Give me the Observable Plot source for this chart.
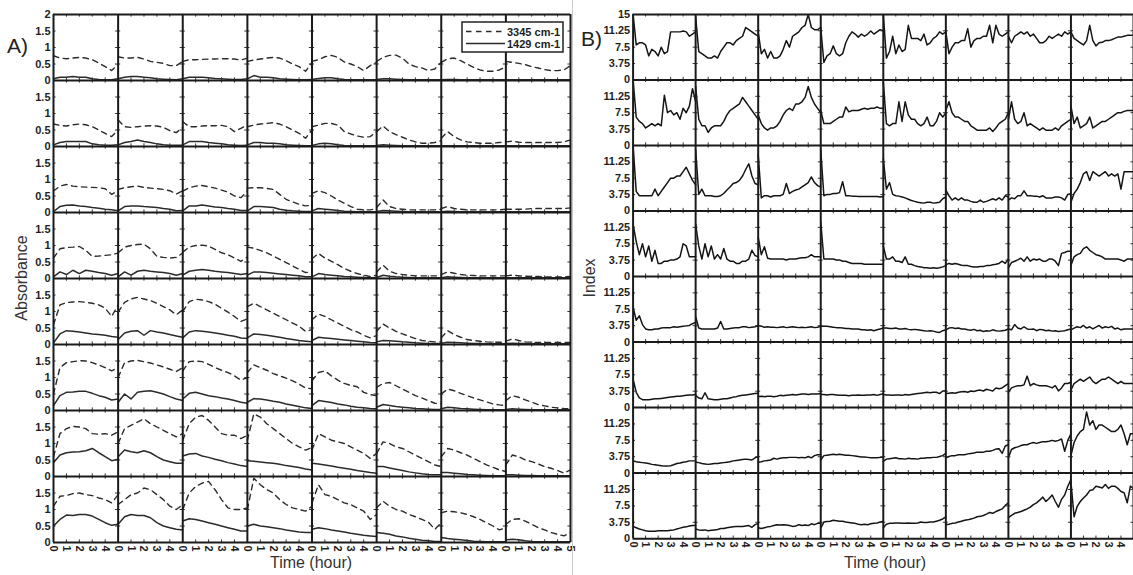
<!DOCTYPE html>
<html><head><meta charset="utf-8">
<script src="https://cdn.jsdelivr.net/npm/d3@7"></script>
<script src="https://cdn.jsdelivr.net/npm/@observablehq/plot@0.6"></script>
<style>
html,body{margin:0;padding:0;background:#fff}
#wrap{position:relative;width:1133px;height:575px;overflow:hidden;background:#fff}
#a,#b,#ann{position:absolute;top:0}
#a{left:0}
#b{left:575px}
#ann{left:0;pointer-events:none}
</style></head>
<body>
<div id="wrap"><div id="a"></div><div id="b"></div>
<svg id="ann" width="1133" height="575" font-family="Liberation Sans, Arial, sans-serif"></svg></div>
<script>
// ---------- data ----------
const timesA = [0,0.5,1,1.5,2,2.5,3,3.5,4,4.5,5];
const timesB = [0,0.25,0.5,0.75,1,1.25,1.5,1.75,2,2.25,2.5,2.75,3,3.25,3.5,3.75,4,4.25,4.5,4.75,5];
const hourTicks = [0,1,2,3,4];
const hourEnd = 5;
const absTicks = [0,0.5,1,1.5];
const absTop = 2;
const idxTicks = [0,3.75,7.5,11.25];
const idxTop = 15;
const seriesNames = ["3345 cm-1","1429 cm-1"];

// Absorbance at 3345 cm-1 (dashed): 8 rows x 8 columns x 11 times
const band3345 = [
 [[0.75,0.68,0.66,0.68,0.7,0.68,0.63,0.53,0.42,0.3,0.5],[0.72,0.68,0.68,0.7,0.65,0.58,0.55,0.52,0.45,0.45,0.58],[0.58,0.63,0.63,0.64,0.65,0.65,0.66,0.66,0.65,0.62,0.68],[0.58,0.62,0.65,0.68,0.7,0.68,0.6,0.5,0.42,0.28,0.55],[0.58,0.63,0.72,0.76,0.7,0.56,0.5,0.42,0.3,0.45,0.55],[0.58,0.7,0.76,0.77,0.68,0.5,0.42,0.38,0.3,0.35,0.55],[0.55,0.66,0.68,0.6,0.5,0.4,0.32,0.28,0.28,0.32,0.42],[0.58,0.55,0.52,0.48,0.42,0.38,0.33,0.3,0.3,0.32,0.45]],
 [[0.68,0.64,0.62,0.66,0.68,0.66,0.6,0.5,0.4,0.3,0.5],[0.8,0.6,0.58,0.6,0.62,0.63,0.62,0.58,0.48,0.42,0.58],[0.75,0.6,0.6,0.62,0.63,0.63,0.64,0.6,0.45,0.55,0.65],[0.6,0.65,0.68,0.7,0.72,0.68,0.6,0.5,0.4,0.25,0.5],[0.6,0.65,0.7,0.7,0.65,0.45,0.38,0.32,0.28,0.3,0.45],[0.45,0.62,0.45,0.36,0.28,0.2,0.14,0.1,0.1,0.12,0.18],[0.25,0.45,0.3,0.2,0.14,0.12,0.1,0.1,0.1,0.12,0.14],[0.14,0.16,0.13,0.12,0.12,0.12,0.12,0.12,0.12,0.14,0.2]],
 [[0.65,0.8,0.85,0.8,0.78,0.77,0.76,0.75,0.72,0.55,0.66],[0.7,0.75,0.78,0.8,0.76,0.74,0.72,0.7,0.66,0.56,0.66],[0.65,0.75,0.8,0.82,0.78,0.74,0.68,0.62,0.5,0.45,0.65],[0.74,0.75,0.75,0.73,0.7,0.55,0.4,0.32,0.25,0.2,0.22],[0.58,0.66,0.6,0.5,0.38,0.28,0.18,0.1,0.08,0.08,0.12],[0.15,0.38,0.18,0.12,0.1,0.08,0.08,0.08,0.08,0.08,0.1],[0.12,0.18,0.12,0.1,0.08,0.08,0.08,0.08,0.08,0.08,0.1],[0.1,0.1,0.1,0.1,0.12,0.12,0.12,0.12,0.12,0.12,0.14]],
 [[0.62,0.9,0.94,0.95,0.97,0.85,0.67,0.68,0.7,0.72,0.77],[0.78,0.95,1.0,1.03,1.04,0.9,0.67,0.64,0.62,0.64,0.77],[0.8,0.95,1.0,1.01,0.98,0.88,0.78,0.72,0.62,0.52,0.65],[0.95,0.92,0.85,0.78,0.68,0.58,0.48,0.38,0.28,0.18,0.2],[0.6,0.76,0.62,0.52,0.42,0.3,0.22,0.15,0.1,0.06,0.1],[0.2,0.4,0.22,0.15,0.12,0.1,0.08,0.08,0.08,0.08,0.08],[0.12,0.2,0.16,0.12,0.1,0.09,0.08,0.08,0.08,0.08,0.08],[0.08,0.1,0.08,0.07,0.06,0.06,0.05,0.05,0.05,0.05,0.06]],
 [[0.6,1.2,1.27,1.29,1.3,1.28,1.25,1.2,1.1,0.85,1.2],[0.98,1.28,1.38,1.43,1.38,1.33,1.25,1.15,1.05,0.9,1.05],[1.0,1.3,1.37,1.35,1.3,1.22,1.1,0.98,0.85,0.7,0.78],[1.15,1.25,1.15,1.05,0.95,0.85,0.75,0.65,0.55,0.4,0.45],[0.75,0.92,0.85,0.75,0.65,0.55,0.45,0.38,0.28,0.2,0.27],[0.4,0.62,0.5,0.4,0.32,0.25,0.18,0.12,0.1,0.08,0.08],[0.2,0.42,0.3,0.22,0.15,0.12,0.1,0.08,0.07,0.07,0.07],[0.1,0.17,0.12,0.08,0.07,0.06,0.06,0.06,0.06,0.06,0.06]],
 [[0.5,1.3,1.45,1.48,1.51,1.5,1.45,1.38,1.3,1.2,1.3],[1.0,1.45,1.5,1.52,1.48,1.44,1.38,1.32,1.25,1.18,1.3],[1.2,1.48,1.5,1.48,1.4,1.3,1.22,1.15,1.05,0.92,1.0],[1.15,1.38,1.3,1.22,1.12,1.05,0.98,0.9,0.8,0.68,0.66],[0.9,1.15,1.2,1.05,0.92,0.82,0.76,0.72,0.55,0.48,0.45],[0.7,0.82,0.85,0.75,0.65,0.55,0.45,0.38,0.3,0.22,0.2],[0.5,0.65,0.6,0.52,0.45,0.38,0.32,0.26,0.2,0.17,0.15],[0.3,0.45,0.4,0.32,0.25,0.18,0.14,0.1,0.08,0.06,0.05]],
 [[0.6,1.3,1.45,1.52,1.5,1.45,1.3,1.28,1.3,1.25,1.35],[1.0,1.45,1.55,1.65,1.75,1.6,1.5,1.4,1.3,1.2,1.3],[1.1,1.6,1.8,1.85,1.7,1.5,1.3,1.25,1.25,1.15,1.25],[1.1,1.9,1.8,1.6,1.45,1.3,1.15,1.0,0.9,0.8,0.88],[0.8,1.3,1.2,1.1,1.05,1.0,0.9,0.8,0.7,0.55,0.7],[0.7,1.05,1.0,0.9,0.85,0.75,0.65,0.55,0.45,0.35,0.3],[0.6,0.85,0.8,0.72,0.65,0.55,0.45,0.35,0.28,0.2,0.15],[0.35,0.65,0.6,0.5,0.45,0.38,0.3,0.25,0.18,0.1,0.2]],
 [[1.1,1.4,1.42,1.48,1.5,1.45,1.42,1.35,1.3,1.2,1.45],[1.15,1.3,1.45,1.5,1.65,1.6,1.45,1.3,1.1,1.0,1.15],[1.0,1.5,1.7,1.8,1.85,1.6,1.3,1.05,1.0,1.0,1.05],[1.0,1.95,1.75,1.6,1.5,1.3,1.15,1.05,1.0,0.95,1.1],[1.2,1.75,1.45,1.4,1.3,1.2,1.15,1.05,0.95,0.7,0.85],[1.05,1.25,1.1,1.0,0.95,0.85,0.78,0.7,0.62,0.4,0.6],[0.9,0.95,0.93,0.9,0.85,0.78,0.7,0.6,0.5,0.38,0.45],[0.55,0.7,0.72,0.65,0.55,0.45,0.38,0.3,0.25,0.2,0.3]]
];

// Absorbance at 1429 cm-1 (solid)
const band1429 = [
 [[0.05,0.1,0.1,0.12,0.1,0.1,0.05,0.03,0.02,0.02,0.05],[0.05,0.1,0.12,0.12,0.1,0.08,0.05,0.04,0.03,0.02,0.05],[0.05,0.1,0.1,0.1,0.08,0.06,0.05,0.04,0.03,0.03,0.05],[0.05,0.15,0.1,0.1,0.08,0.05,0.04,0.03,0.02,0.02,0.03],[0.03,0.06,0.08,0.08,0.05,0.03,0.02,0.02,0.02,0.02,0.02],[0.03,0.05,0.05,0.04,0.03,0.02,0.02,0.02,0.02,0.02,0.02],[0.02,0.03,0.03,0.02,0.02,0.02,0.02,0.02,0.02,0.02,0.02],[0.02,0.02,0.02,0.02,0.02,0.02,0.02,0.02,0.02,0.02,0.02]],
 [[0.05,0.12,0.15,0.15,0.15,0.15,0.08,0.05,0.04,0.04,0.05],[0.05,0.12,0.15,0.2,0.15,0.12,0.08,0.05,0.04,0.04,0.04],[0.05,0.15,0.15,0.15,0.12,0.1,0.08,0.05,0.04,0.03,0.04],[0.05,0.12,0.12,0.1,0.1,0.08,0.05,0.04,0.03,0.02,0.02],[0.03,0.08,0.1,0.08,0.05,0.03,0.02,0.02,0.02,0.02,0.02],[0.03,0.05,0.04,0.03,0.02,0.02,0.02,0.02,0.02,0.02,0.02],[0.02,0.02,0.02,0.02,0.02,0.02,0.02,0.02,0.02,0.02,0.02],[0.02,0.02,0.02,0.02,0.02,0.02,0.02,0.02,0.02,0.02,0.02]],
 [[0.03,0.18,0.22,0.23,0.2,0.18,0.15,0.13,0.1,0.08,0.05],[0.05,0.18,0.2,0.2,0.18,0.17,0.15,0.12,0.1,0.05,0.06],[0.05,0.2,0.2,0.23,0.2,0.17,0.15,0.12,0.1,0.06,0.06],[0.05,0.18,0.18,0.17,0.15,0.1,0.07,0.05,0.04,0.03,0.03],[0.05,0.12,0.1,0.08,0.06,0.04,0.03,0.02,0.02,0.02,0.02],[0.03,0.06,0.05,0.04,0.03,0.02,0.02,0.02,0.02,0.02,0.02],[0.02,0.04,0.03,0.02,0.02,0.02,0.02,0.02,0.02,0.02,0.02],[0.02,0.02,0.02,0.02,0.02,0.02,0.02,0.02,0.02,0.02,0.02]],
 [[0.05,0.2,0.12,0.25,0.15,0.25,0.22,0.18,0.15,0.1,0.15],[0.05,0.2,0.1,0.22,0.25,0.22,0.2,0.18,0.15,0.1,0.15],[0.1,0.22,0.25,0.27,0.25,0.22,0.2,0.18,0.15,0.12,0.15],[0.1,0.2,0.2,0.18,0.16,0.14,0.12,0.1,0.08,0.05,0.05],[0.05,0.15,0.12,0.1,0.08,0.06,0.05,0.04,0.03,0.02,0.03],[0.03,0.1,0.07,0.05,0.04,0.03,0.02,0.02,0.02,0.02,0.02],[0.02,0.05,0.04,0.03,0.02,0.02,0.02,0.02,0.02,0.02,0.02],[0.02,0.02,0.02,0.02,0.02,0.02,0.02,0.02,0.02,0.02,0.02]],
 [[0.05,0.32,0.42,0.4,0.38,0.35,0.32,0.3,0.28,0.24,0.22],[0.15,0.35,0.4,0.42,0.28,0.42,0.38,0.35,0.3,0.26,0.22],[0.2,0.38,0.42,0.4,0.38,0.35,0.32,0.28,0.25,0.2,0.18],[0.2,0.32,0.3,0.28,0.25,0.22,0.18,0.15,0.12,0.1,0.08],[0.12,0.22,0.2,0.18,0.16,0.14,0.12,0.1,0.08,0.06,0.05],[0.08,0.12,0.11,0.1,0.08,0.07,0.05,0.04,0.03,0.03,0.03],[0.04,0.07,0.06,0.05,0.04,0.03,0.03,0.02,0.02,0.02,0.02],[0.03,0.04,0.03,0.03,0.02,0.02,0.02,0.02,0.02,0.02,0.02]],
 [[0.15,0.45,0.55,0.56,0.58,0.58,0.52,0.45,0.4,0.32,0.35],[0.25,0.5,0.35,0.55,0.58,0.6,0.55,0.5,0.42,0.35,0.3],[0.35,0.52,0.55,0.5,0.45,0.42,0.38,0.35,0.3,0.25,0.22],[0.25,0.36,0.35,0.32,0.28,0.25,0.2,0.16,0.12,0.08,0.06],[0.15,0.3,0.27,0.24,0.2,0.17,0.13,0.1,0.08,0.06,0.05],[0.1,0.18,0.15,0.12,0.1,0.08,0.06,0.05,0.04,0.03,0.03],[0.05,0.1,0.08,0.06,0.05,0.04,0.03,0.02,0.02,0.02,0.02],[0.03,0.05,0.04,0.03,0.02,0.02,0.02,0.02,0.02,0.02,0.02]],
 [[0.42,0.65,0.72,0.74,0.75,0.78,0.85,0.72,0.6,0.48,0.52],[0.6,0.8,0.75,0.72,0.78,0.72,0.6,0.5,0.45,0.4,0.4],[0.62,0.68,0.7,0.62,0.58,0.52,0.48,0.42,0.38,0.33,0.3],[0.48,0.46,0.44,0.42,0.4,0.37,0.33,0.3,0.27,0.23,0.2],[0.4,0.38,0.35,0.32,0.28,0.25,0.22,0.18,0.15,0.12,0.1],[0.3,0.3,0.26,0.22,0.18,0.14,0.11,0.08,0.06,0.05,0.05],[0.12,0.12,0.1,0.08,0.06,0.05,0.04,0.03,0.02,0.02,0.02],[0.05,0.05,0.04,0.03,0.03,0.02,0.02,0.02,0.02,0.02,0.02]],
 [[0.5,0.7,0.83,0.82,0.85,0.85,0.8,0.7,0.6,0.52,0.55],[0.55,0.78,0.85,0.82,0.82,0.75,0.6,0.5,0.45,0.4,0.38],[0.65,0.72,0.7,0.65,0.6,0.55,0.5,0.45,0.4,0.35,0.35],[0.5,0.55,0.5,0.48,0.45,0.42,0.38,0.35,0.32,0.3,0.3],[0.4,0.45,0.42,0.38,0.35,0.32,0.28,0.25,0.22,0.2,0.18],[0.3,0.28,0.25,0.2,0.17,0.13,0.1,0.07,0.05,0.03,0.03],[0.15,0.12,0.1,0.08,0.06,0.04,0.03,0.02,0.02,0.02,0.02],[0.08,0.1,0.08,0.05,0.03,0.02,0.02,0.02,0.02,0.02,0.02]]
];

// Index (panel B): 8 rows x 8 columns x 21 times
const indexVals = [
 [[15,8,8.5,8.5,8,5.5,7,6.5,5.5,7.5,6,6.5,11,11,11,11,11.2,11,10,10.5,11],[14.5,6.5,6,5.5,5,5,5.5,5,6.5,7.5,8.5,8.5,8,9,9.5,10,12,11.5,11,10.5,10],[11,6,7,5,6.5,5,5,5.5,7,9,7.5,10,10.5,11,12,12.5,15,12,11.5,11.5,12],[12,4,5.5,6,7.8,6,5.5,6,8.5,10,11,10.5,9.8,10.5,10,10.5,11.2,10.5,11,11.5,11.2],[15,5,6.5,10,6,8,6.5,7,12.5,9.5,9.5,9.5,9,10.5,8,8.5,9.5,10,11,10.5,11],[11,6,7.5,8.5,8.5,9,9,11.7,7.5,9,9.5,9.5,10,10,12.5,8.5,12.5,10.5,10,10.5,11],[10,8.5,10,10.5,11,10.5,11,10,10.5,9.5,8.5,8.5,9,10,9.5,10,10.5,10,11,10.5,11],[11,9.5,9,8.5,8,9,12.5,9,7.8,8.5,8.6,9,9,9.2,9.5,9.8,9.8,10,10.2,10.2,10.3]],
 [[15,6.5,5.5,5,4,4.5,5,4.5,5,4.5,11.5,7.5,8,7,7.5,6,8.5,7.5,9,13,10],[13.5,6,4.5,4.5,3,4,4.5,4.5,4.5,5.5,7,8,8.5,9,9.5,11,10,9,8,7,6],[7,5,4,3.5,4,4,4.5,5.5,7,8,8.5,8,9.5,9.5,10,11,13.5,11,9.5,8.5,7.5],[8,5,5,5,5.5,6,6.5,6.5,8.8,7.7,8,8,8,8.3,8.5,8.3,8.5,8.5,8.8,8.5,8.5],[14.5,5,4.5,5,5,10,5.5,10,7,6,6,5,4.5,5,6.5,4.5,4.5,5.5,7.5,6.5,7.5],[8,10,7.5,6.5,6.5,6,5.5,5.5,4.5,4,3.5,3.5,3.5,3.5,4,3.2,4,5,5.5,6,7.5],[6,10,6,5,5.5,7.5,4.5,5,4.5,4,3.5,4,3.5,3.5,3.5,4,3.5,4.5,5,5.5,6],[9,5,6.5,4,4.5,5,6.5,4,4.5,5,5.5,5.5,6,6.5,7,7.5,7.5,7.8,8,8,8]],
 [[15,4.5,3.5,3.5,3.5,3.5,3.5,5,3.5,4.5,5.5,6.5,7.5,7.5,8,8,9,10,8.5,7,6],[14,3.8,5,3.5,3.5,3.5,3.3,3.3,3.5,4,4.8,5.5,6.3,6.5,7,8,9.5,10.8,8,6.3,6],[13,3,3.5,3.5,3.2,3.5,3.5,3.5,3.8,6.3,4,4.5,4.8,5,5.5,6,6.5,7.8,6.5,5.8,5.5],[14,3.5,3.8,3.8,4,4,4.2,6.7,3.5,3.5,3.4,3.4,3.3,3.3,3.3,3.3,3.3,3.3,3.3,3.2,3.3],[12,5,6.5,3.8,3.5,3.4,3.2,3,2.7,2.4,2.2,2,1.9,1.8,2,2,1.8,1.9,2,2.8,3.2],[4.8,3.5,2.5,3,2.5,3,2.5,2.5,2.2,2,2,2.5,2,2.2,2.5,2.8,2.5,3,2.5,3.5,3.2],[2.5,3,2.8,3.5,3.5,4.6,3.5,3.5,3.4,3.4,3.2,3.5,3,3,3,3.2,3.2,3,2.5,3.8,4],[2,4,5,6.5,8.5,9,7,9,8.5,8,8.5,9,8,8.5,8,8.5,5,9,9,9,9]],
 [[12,8,5,7.5,4.5,7,3.5,6,3,3,3.5,3.5,3.8,3.8,4,4.5,7.5,7,4.5,4.5,4.5],[12,7,4,7.5,4.5,7,4,5,4,6.4,4,3.5,3.5,3,3,3.5,3.5,4,6,4.8,4.5],[9,5,6.8,4.2,4,4,4,4,4,3.8,4,4,4,4.2,4.3,4.3,4.5,5,4.5,4.5,4.5],[12.5,4,4,4,4,3.8,3.8,3.5,3.5,3.2,3,3,3,3,2.8,2.8,2.8,2.8,2.8,2.8,2.8],[7,4,4,4.5,3.5,3.5,3.2,4.5,2.8,2.8,2.5,2.3,2.2,2,2,1.9,2,1.9,2,2.2,2.5],[2.7,3,2.8,3,2.8,2.6,2.5,2.5,2.3,2.2,2.2,2.3,2.3,2.5,2.5,2.7,2.8,3,3.5,3,4],[2,3.2,3.5,3.8,4.2,3.5,4.5,3.5,4,3.8,4,3.5,3.5,4,4,3.5,2.5,5.3,5.5,5.8,5.8],[2.5,4.5,5,5.3,6.4,6.8,6,5.5,5,4.8,4.5,4,4,4,4,4,3.8,3.5,4,4,4]],
 [[8,5,6,4,3,2.8,2.8,3,3,3.2,3.3,3.3,3.3,3.5,3.4,3.5,3.6,3.7,3.8,4.2,4.5],[5.8,3.2,3,3,3,3,3,3.2,4.7,3,3,3.1,3.2,3.3,3.3,3.5,3.5,3.3,3.4,3.5,3.8],[3.8,3.6,3.4,3.5,3.4,3.4,3.3,3.4,3.5,3.3,3.4,3.5,3.4,3.3,3.4,3.3,3.4,3.5,3.3,3.4,3.6],[3.6,3.6,3.6,3.5,3.4,3.3,3.3,3.2,3.1,3.1,3,3,3,2.8,2.8,2.7,2.8,2.6,2.8,3,3.2],[3.2,3.2,3.1,3.1,3.2,3,3,3.1,2.9,2.8,2.9,2.8,2.7,2.6,2.5,2.6,2.5,2.3,2.2,2.6,2.8],[2.8,3.2,3.3,3.1,3.2,3,3,2.8,2.7,2.9,2.6,2.7,2.4,2.6,2.5,2.8,2.6,2.5,2.6,2.7,3],[3,2.8,4,3.2,3,3.5,3,2.9,3,2.6,2.9,2.8,2.6,2.7,2.5,2.6,2.4,2.5,2.6,2.8,3],[2.8,3.2,3.5,3.3,3.8,3.2,3.5,3,3.4,3.8,3.2,3.5,3.3,3.6,3,3.2,2.8,3,3,3,3]],
 [[6.5,3.5,2.2,1.8,1.8,1.8,1.9,2,2,2.1,2.2,2.3,2.4,2.5,2.6,2.6,2.7,2.8,2.9,2.9,3],[2.8,2.2,2,3.4,2,1.9,1.8,1.8,1.9,2,2,2.2,2.4,2.5,2.7,2.8,2.9,3,3.1,3.2,3.3],[2.5,2.6,2.5,2.6,2.6,2.5,2.6,2.8,2.7,2.8,2.9,3,2.9,3,3.1,3.1,3,3.1,3.1,3.1,3.2],[3,3,2.9,3,3,2.9,2.8,2.8,2.8,2.7,2.8,2.8,2.9,2.8,2.8,2.9,2.9,3,2.8,3,3.2],[3,2.9,2.9,2.8,2.9,2.9,2.8,3,2.9,3,3.1,3.2,3.3,3.4,3.5,3.4,3.5,3.5,3.2,3.8,3.8],[3.2,3.3,3.4,3.3,3.5,3.6,3.7,3.5,3.8,3.7,3.9,4,3.8,4.2,4,3.8,4.5,4.3,4.5,5,5.5],[3.5,4.5,4.8,5,5,5.2,7.2,5,5.5,5.2,5,5,5,4.8,4.5,5,3.8,4.5,5.5,5.5,5.8],[4,5.5,6,6.5,6,6.5,7,6,5.5,6,6.5,6.5,7,6.5,6,5.5,6,5.5,5.5,5.5,5.5]],
 [[2.8,2.6,2.5,2.4,2.3,2.2,2,1.9,1.8,1.7,1.6,1.6,1.7,1.9,2.2,2.3,2.5,2.6,2.8,2.8,2.8],[2.5,2.4,2.2,2.1,2,2.1,2.2,2.2,2.3,2.4,2.5,2.6,2.8,2.9,3,3.1,3.2,3.1,3,3.5,3.8],[2.5,2.6,2.8,2.9,3,3.4,3.2,3.4,3.5,3.5,3.6,3.6,3.6,3.5,3.6,3.5,3.8,3.5,4,4.2,4.2],[3,4,4.1,4.2,4.3,4.2,4.3,4.2,4.1,4.1,4,3.9,3.8,3.7,3.7,3.6,3.5,3.5,3.5,3.6,3.7],[2.7,3.2,3.3,3.4,3.5,3.3,3.3,3.2,3.4,3.3,3.3,3.2,3.4,3.4,3.5,3.5,3.6,3.6,3.8,4,4.5],[3.5,3.8,4,4,4.2,4.2,4.2,4.4,4.5,4.6,4.8,4.8,4.8,5,5,5.2,5.5,5.6,4.5,6.2,6.5],[3.5,5.4,5.8,6,6.3,6.5,6.5,6.8,7,6.8,7,7.2,7.2,7.3,7.5,7.3,7.5,7.8,5,7.5,9],[4,7,8.5,9.5,10,14,11,12,10,11,11,10.5,10,9.5,9.5,10,11,9,6.5,9,9]],
 [[2.8,2.5,2.2,2,1.8,1.7,1.7,1.7,1.8,1.8,1.8,1.8,1.9,2,2.2,2.4,2.6,2.7,2.9,3,3],[2.2,2,1.9,2,1.8,1.9,2,2.1,2.3,2.3,2.5,2.6,2.7,2.8,2.8,2.8,2.9,3,2.6,3.2,3.5],[2.5,2.3,2.5,2.7,2.8,3,3.2,3.1,3.2,3.1,3,2.8,2.9,3.2,3,3.1,3,3.4,3.2,3.5,3.5],[2.4,3.8,3.9,4,4.2,4.1,4,4,3.8,3.7,3.6,3.5,3.3,3.2,3.3,3.2,3.4,3.5,3.6,3.8,4],[2.5,3.3,3.5,3.5,3.6,3.6,3.5,3.5,3.6,3.5,3.5,3.6,3.8,3.7,3.7,3.8,3.8,4,4.2,4.5,5],[3.2,3.3,3.5,3.6,3.8,4,4.2,4.3,4.5,4.7,5,5.1,5.3,5.6,6,5.8,6.2,6.5,6.8,7.6,8.2],[4.8,5.3,5.8,6,6.2,6.5,6.8,7.2,7.8,8.2,8.8,9.5,8.5,9.2,10,8.5,7.2,9,10,12,13.5],[13,5,7.4,8.5,9.3,10,11,11.2,12,11.8,11.6,12.4,11.5,12,12,11.5,10.8,10.5,8.2,12,11.5]]
];

// ---------- layout helpers ----------
const nRows = 8, nCols = 8;
const FONT = "Liberation Sans, Arial, Helvetica, sans-serif";

// flatten a rows x cols grid of series onto a single stacked coordinate system
function stack(grid, times, span, tag) {
  const out = [];
  grid.forEach((row, r) => row.forEach((vals, c) => vals.forEach((v, i) => {
    out.push({x: c * hourEnd + times[i], y: (nRows - 1 - r) * span + v, id: tag + "-" + r + "-" + c});
  })));
  return out;
}

function xAxisSpec(showEnd) {
  const pos = [], text = new Map();
  for (let c = 0; c < nCols; c++) for (const h of hourTicks) { const p = c * hourEnd + h; pos.push(p); text.set(p, String(h)); }
  if (showEnd) { const endP = nCols * hourEnd; pos.push(endP); text.set(endP, String(hourEnd)); }
  return {pos, text};
}
function yAxisSpec(ticks, top) {
  const pos = [], text = new Map();
  for (let r = 0; r < nRows; r++) for (const t of ticks) { const p = r * top + t; pos.push(p); text.set(p, String(t)); }
  const endP = nRows * top; pos.push(endP); text.set(endP, String(top));
  return {pos, text};
}
// small inward (box) tick marks inside every sub-panel
function innerTicks(ticks, top, dyUnits, dxUnits) {
  const xt = [], yt = [];
  for (let b = 0; b <= nRows; b++) for (let c = 0; c < nCols; c++) for (const h of hourTicks.slice(1)) {
    const x = c * hourEnd + h, y = b * top;
    if (b < nRows) xt.push({x, y1: y, y2: y + dyUnits});
    if (b > 0) xt.push({x, y1: y - dyUnits, y2: y});
  }
  for (let k = 0; k <= nCols; k++) for (let r = 0; r < nRows; r++) for (const t of ticks.slice(1)) {
    const y = r * top + t, x = k * hourEnd;
    if (k < nCols) yt.push({y, x1: x, x2: x + dxUnits});
    if (k > 0) yt.push({y, x1: x - dxUnits, x2: x});
  }
  return {xt, yt};
}

function panel({width, marginLeft, marginRight, yTop, ticks, layers, dyUnits, showEnd}) {
  const xs = xAxisSpec(showEnd), ys = yAxisSpec(ticks, yTop);
  const inner = innerTicks(ticks, yTop, dyUnits, 0.2);
  return Plot.plot({
    width, height: 575,
    marginTop: 14, marginBottom: 33, marginLeft, marginRight,
    x: {domain: [0, nCols * hourEnd], label: null},
    y: {domain: [0, nRows * yTop], label: null},
    style: {fontFamily: FONT, fontSize: "11px", fontWeight: "bold", color: "#1e1e1e", background: "transparent", overflow: "visible"},
    marks: [
      ...layers,
      Plot.ruleX(inner.xt, {x: "x", y1: "y1", y2: "y2", stroke: "#333", strokeWidth: 1}),
      Plot.ruleY(inner.yt, {y: "y", x1: "x1", x2: "x2", stroke: "#333", strokeWidth: 1}),
      Plot.ruleX(d3.range(0, nCols * hourEnd + 1, hourEnd), {stroke: "#1a1a1a", strokeWidth: 2}),
      Plot.ruleY(d3.range(0, nRows * yTop + 0.001, yTop), {stroke: "#1a1a1a", strokeWidth: 2}),
      Plot.axisX(xs.pos, {anchor: "bottom", tickSize: 0, tickPadding: 3, tickRotate: 90, tickFormat: d => xs.text.get(d), label: null}),
      Plot.axisY(ys.pos, {anchor: "left", tickSize: 0, tickPadding: 3, tickFormat: d => ys.text.get(d), label: null})
    ]
  });
}

// ---------- panel A ----------
const dashA = stack(band3345, timesA, absTop, "d");
const solidA = stack(band1429, timesA, absTop, "s");
const chartA = panel({
  width: 575, marginLeft: 53, marginRight: 5, yTop: absTop, ticks: absTicks, dyUnits: 0.08, showEnd: true,
  layers: [
    Plot.line(dashA, {x: "x", y: "y", z: "id", stroke: "#2b2b2b", strokeWidth: 1.4, strokeDasharray: "5.5,4.5"}),
    Plot.line(solidA, {x: "x", y: "y", z: "id", stroke: "#2b2b2b", strokeWidth: 1.5})
  ]
});
document.getElementById("a").append(chartA);

// ---------- panel B ----------
const lineB = stack(indexVals, timesB, idxTop, "i");
const chartB = panel({
  width: 562, marginLeft: 58, marginRight: 0, yTop: idxTop, ticks: idxTicks, dyUnits: 0.6, showEnd: false,
  layers: [
    Plot.line(lineB, {x: "x", y: "y", z: "id", stroke: "#141414", strokeWidth: 1.5, clip: true})
  ]
});
document.getElementById("b").append(chartB);

// ---------- annotations ----------
const ann = d3.select("#ann");
ann.append("line").attr("x1", 572.5).attr("x2", 572.5).attr("y1", 0).attr("y2", 575).attr("stroke", "#c8c8c8").attr("stroke-width", 1);
ann.append("text").attr("x", 7).attr("y", 53).attr("font-size", 21).attr("fill", "#222").text("A)");
ann.append("text").attr("x", 581).attr("y", 46).attr("font-size", 21).attr("fill", "#222").text("B)");
ann.append("text").attr("transform", "translate(27,278) rotate(-90)").attr("text-anchor", "middle").attr("font-size", 16).attr("fill", "#333").text("Absorbance");
ann.append("text").attr("transform", "translate(595,278) rotate(-90)").attr("text-anchor", "middle").attr("font-size", 16).attr("fill", "#333").text("Index");
ann.append("text").attr("x", 311).attr("y", 568).attr("text-anchor", "middle").attr("font-size", 16).attr("fill", "#333").text("Time (hour)");
ann.append("text").attr("x", 885).attr("y", 568).attr("text-anchor", "middle").attr("font-size", 16).attr("fill", "#333").text("Time (hour)");
// legend
const lg = ann.append("g");
lg.append("rect").attr("x", 462).attr("y", 22).attr("width", 101).attr("height", 30).attr("fill", "#fff").attr("stroke", "#222").attr("stroke-width", 1.5);
lg.append("line").attr("x1", 466).attr("x2", 502).attr("y1", 31.5).attr("y2", 31.5).attr("stroke", "#2b2b2b").attr("stroke-width", 1.4).attr("stroke-dasharray", "5.5,4.5");
lg.append("line").attr("x1", 466).attr("x2", 505).attr("y1", 43.5).attr("y2", 43.5).attr("stroke", "#2b2b2b").attr("stroke-width", 1.5);
lg.append("text").attr("x", 507).attr("y", 35.5).attr("font-size", 11).attr("font-weight", "bold").attr("fill", "#1e1e1e").text(seriesNames[0]);
lg.append("text").attr("x", 507).attr("y", 47.5).attr("font-size", 11).attr("font-weight", "bold").attr("fill", "#1e1e1e").text(seriesNames[1]);
</script>
</body></html>
